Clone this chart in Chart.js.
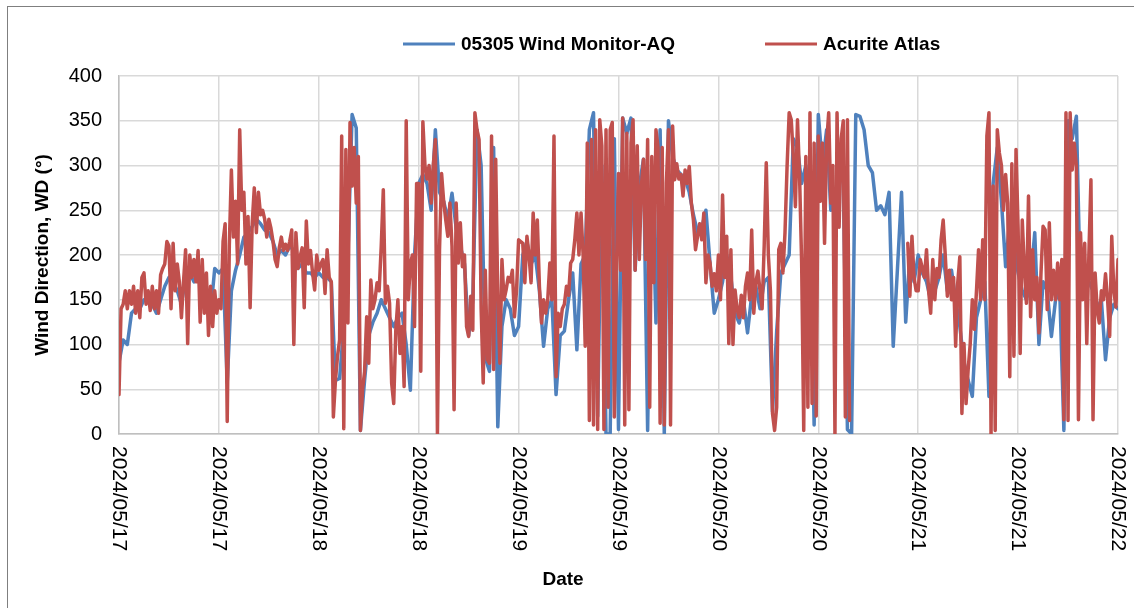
<!DOCTYPE html>
<html>
<head>
<meta charset="utf-8">
<script src="https://cdn.jsdelivr.net/npm/chart.js@4.4.1/dist/chart.umd.min.js"></script>
<style>
  html, body { margin: 0; padding: 0; background: #fff; overflow: hidden; }
  #wrap { position: relative; width: 1134px; height: 608px; }
  #frame { position: absolute; left: 7px; top: 6px; width: 1300px; height: 800px; border: 1px solid #7f7f7f; box-sizing: border-box; }
  canvas { position: absolute; left: 0; top: 0; }
</style>
</head>
<body>
<div id="wrap"><div id="frame"></div><canvas id="wdChart" width="1134" height="608"></canvas></div>
<script>
// Series names and axis text
const seriesNames = ['05305 Wind Monitor-AQ', 'Acurite Atlas'];
const yTitle = 'Wind Direction, WD (°)';
const xTitle = 'Date';
const dateLabels = ['2024/05/17', '2024/05/17', '2024/05/18', '2024/05/18', '2024/05/19',
    '2024/05/19', '2024/05/20', '2024/05/20', '2024/05/21', '2024/05/21', '2024/05/22'];

// Hours since 2024/05/17 00:00 between readings
const monitorStep = 0.5;
const atlasStep = 0.25;

// 05305 Wind Monitor-AQ, wind direction (deg), every 30 min
const monitorWD = [
    80,105,100,135,140,140,150,150,145,135,150,165,175,170,160,145,175,180,170,175,175,150,135,185,
    180,185,57,160,183,200,220,225,232,240,235,228,225,215,200,205,200,210,205,185,190,180,180,175,
    180,175,175,170,60,62,120,200,357,342,4,60,110,125,135,150,140,130,120,130,135,100,49,200,
    280,290,280,250,340,270,260,240,269,230,210,190,110,150,340,300,85,70,320,8,120,150,140,110,
    120,200,215,190,200,160,98,140,150,44,110,115,150,180,94,190,200,340,359,20,300,0,0,330,
    5,353,336,353,183,277,307,4,300,124,340,0,350,310,295,290,285,270,245,225,230,250,190,135,
    150,170,200,175,135,124,150,113,155,165,140,170,175,25,115,180,190,200,330,320,280,300,250,10,
    357,300,340,250,260,300,280,5,0,357,355,340,300,292,250,255,245,270,98,183,270,125,200,170,
    200,180,170,150,160,175,200,160,183,150,120,80,60,42,130,150,170,42,280,320,260,187,240,210,
    180,160,150,170,225,100,170,160,109,150,160,4,350,330,355,150,160,170,160,140,150,83,130,145,140
];

// Acurite Atlas, wind direction (deg), every 15 min (null = no data)
const atlasWD = [
    44,140,145,160,140,160,145,165,135,160,130,175,180,145,160,138,165,140,160,135,178,185,190,215,
    210,140,213,160,190,170,130,170,206,101,200,175,195,170,205,125,195,135,180,110,165,120,160,135,
    150,140,215,235,14,210,295,220,260,190,340,250,270,190,243,141,235,275,225,270,245,250,240,220,
    240,230,215,195,187,208,220,205,212,205,215,228,100,225,185,198,208,141,238,190,205,180,161,200,
    183,190,195,157,206,175,170,19,60,87,105,333,6,318,124,348,277,320,258,310,4,49,70,131,
    79,172,140,150,169,160,210,273,146,165,146,57,34,116,150,90,120,53,350,150,190,200,120,280,
    280,70,349,300,285,300,258,300,329,0,206,291,260,239,221,258,210,27,258,191,236,187,200,120,
    109,154,116,359,340,329,140,57,183,83,79,333,72,307,150,79,195,150,161,175,170,183,131,160,
    217,215,213,169,221,200,169,247,200,239,165,124,150,135,150,191,150,333,64,135,120,140,145,165,
    155,191,195,217,247,200,247,200,98,325,15,329,10,340,5,351,322,5,340,30,340,348,19,183,
    291,183,353,10,336,27,325,351,183,322,195,277,307,195,329,30,310,169,340,320,12,320,10,280,
    340,10,344,284,302,285,290,266,295,280,299,258,239,206,221,235,217,247,169,200,191,165,179,160,
    200,150,267,175,221,101,206,100,161,139,130,155,130,165,180,150,228,135,170,182,160,140,210,303,
    200,160,23,4,30,206,213,180,225,299,359,351,310,254,351,288,191,4,310,30,359,34,325,20,
    333,260,325,213,325,359,258,300,0,359,231,330,350,19,351,15,null,null,null,null,null,null,null,null,
    null,null,null,null,null,null,null,null,null,null,null,null,null,null,null,null,null,null,null,213,154,221,175,160,
    160,195,185,175,206,160,135,195,150,185,175,217,239,200,154,183,150,175,98,169,198,23,101,34,
    72,101,150,117,160,206,150,217,150,333,359,0,277,4,340,314,300,250,290,258,64,302,87,318,
    230,90,239,185,146,266,131,206,150,175,113,180,232,228,139,236,150,183,150,191,150,195,16,359,
    15,359,295,325,299,16,225,150,213,101,200,284,16,180,139,124,160,150,179,150,109,221,160,142,195
];

const seriesColors = ['#4f81bd', '#c0504d'];
const FONT = '"Liberation Sans", Arial, sans-serif';
Chart.defaults.font.family = FONT;
Chart.defaults.color = '#000';

function toPoints(vals, step) {
    return vals.map((v, i) => ({ x: i * step, y: v }));
}

// Draws the clockwise date labels, the x title and the legend
const overlayPlugin = {
    id: 'overlay',
    afterDraw(chart) {
        const ctx = chart.ctx;
        const xs = chart.scales.x;
        const bottom = chart.chartArea.bottom;
        ctx.save();
        ctx.fillStyle = '#000';
        ctx.font = '21px ' + FONT;
        ctx.textAlign = 'left';
        ctx.textBaseline = 'middle';
        xs.ticks.forEach((t, i) => {
            const px = xs.getPixelForValue(t.value);
            ctx.save();
            ctx.translate(px, bottom + 12);
            ctx.rotate(Math.PI / 2);
            ctx.fillText(dateLabels[i], 0, 0);
            ctx.restore();
        });

        ctx.font = 'bold 19px ' + FONT;
        ctx.textAlign = 'center';
        ctx.fillText(xTitle, 563, 580);

        // legend
        const legendX = [403, 765];
        ctx.textAlign = 'left';
        ctx.lineWidth = 3;
        chart.data.datasets.forEach((ds, i) => {
            ctx.strokeStyle = ds.borderColor;
            ctx.beginPath();
            ctx.moveTo(legendX[i], 44);
            ctx.lineTo(legendX[i] + 52, 44);
            ctx.stroke();
            ctx.fillText(ds.label, legendX[i] + 58, 45);
        });
        ctx.restore();
    }
};

const gridStyle = { color: '#d9d9d9', lineWidth: 1.5, drawTicks: false };

const ctx = document.getElementById('wdChart').getContext('2d');
new Chart(ctx, {
    type: 'line',
    data: {
        datasets: [{
            label: seriesNames[0],
            data: toPoints(monitorWD, monitorStep),
            borderColor: seriesColors[0],
            borderWidth: 3.5,
            pointRadius: 0,
            borderJoinStyle: 'round',
            borderCapStyle: 'round',
            order: 1
        }, {
            label: seriesNames[1],
            data: toPoints(atlasWD, atlasStep),
            borderColor: seriesColors[1],
            borderWidth: 3.5,
            pointRadius: 0,
            borderJoinStyle: 'round',
            borderCapStyle: 'round',
            spanGaps: false,
            order: 0
        }]
    },
    options: {
        responsive: false,
        animation: false,
        layout: { padding: { top: 76, right: 16, left: 0, bottom: 0 } },
        plugins: {
            legend: { display: false },
            tooltip: { enabled: false }
        },
        scales: {
            x: {
                type: 'linear',
                min: 0,
                max: 120,
                ticks: { stepSize: 12, display: false },
                grid: gridStyle,
                border: { color: '#bfbfbf', width: 1.5 },
                afterFit: s => { s.height = 174; }
            },
            y: {
                min: 0,
                max: 400,
                ticks: { stepSize: 50, padding: 17, color: '#000', font: { size: 20 } },
                grid: gridStyle,
                border: { color: '#bfbfbf', width: 1.5 },
                title: {
                    display: true,
                    text: yTitle,
                    color: '#000',
                    font: { size: 19, weight: 'bold' },
                    padding: { top: 31, bottom: 0 }
                },
                afterFit: s => { s.width = 119; }
            }
        }
    },
    plugins: [overlayPlugin]
});
</script>
</body>
</html>
